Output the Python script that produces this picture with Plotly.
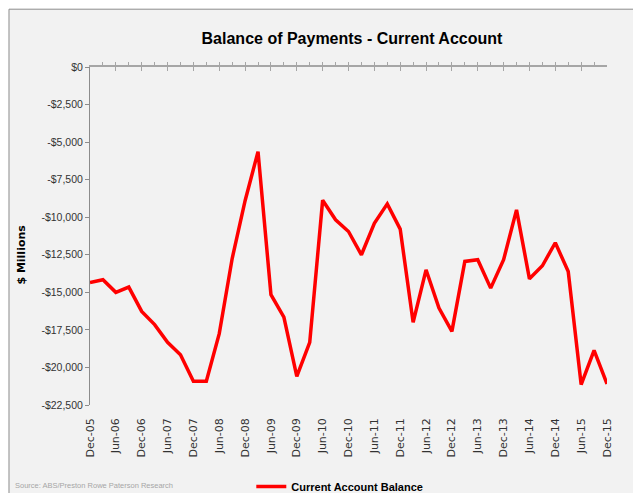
import plotly.graph_objects as go

# quarterly current account balance, $ millions
quarters = [
    "Dec-05", "Mar-06", "Jun-06", "Sep-06", "Dec-06", "Mar-07", "Jun-07", "Sep-07",
    "Dec-07", "Mar-08", "Jun-08", "Sep-08", "Dec-08", "Mar-09", "Jun-09", "Sep-09",
    "Dec-09", "Mar-10", "Jun-10", "Sep-10", "Dec-10", "Mar-11", "Jun-11", "Sep-11",
    "Dec-11", "Mar-12", "Jun-12", "Sep-12", "Dec-12", "Mar-13", "Jun-13", "Sep-13",
    "Dec-13", "Mar-14", "Jun-14", "Sep-14", "Dec-14", "Mar-15", "Jun-15", "Sep-15",
    "Dec-15",
]
balance = [
    -14340, -14160, -15000, -14650, -16270, -17150, -18330, -19150,
    -20920, -20920, -17750, -12750, -8900, -5630, -15160, -16650,
    -20590, -18330, -8870, -10170, -10950, -12500, -10400, -9110,
    -10790, -17000, -13500, -16050, -17600, -12940, -12830, -14720,
    -12830, -9510, -14100, -13230, -11700, -13610, -21140, -18860,
    -21100,
]
y_ticks = [0, -2500, -5000, -7500, -10000, -12500, -15000, -17500, -20000, -22500]
y_labels = ["$0" if v == 0 else "-${:,}".format(-v) for v in y_ticks]
shown_quarters = quarters[::2]

BG = "#f2f2f2"
AXIS = "#a6a6a6"
FONT = "Liberation Sans, sans-serif"

fig = go.Figure()
fig.add_trace(go.Scatter(
    x=quarters, y=balance, mode="lines", name="<b>Current Account Balance</b>",
    line=dict(color="#ff0000", width=3.5),
))
# empty trace so the top category axis (Excel's zero line with ticks) gets drawn
fig.add_trace(go.Scatter(
    x=[0, len(quarters) - 1], y=[None, None], xaxis="x2", mode="lines",
    showlegend=False, hoverinfo="skip",
))

# the page body has an 8px margin, so the figure is sized to fit inside it
fig.update_layout(
    width=633, height=485,
    margin=dict(l=82, r=34, t=59, b=88, autoexpand=False),
    paper_bgcolor="white",
    plot_bgcolor=BG,
    title=dict(
        text="<b>Balance of Payments - Current Account</b>",
        x=0.5434, y=0.938, xanchor="center", yanchor="middle",
        font=dict(family=FONT, size=16, color="black"),
    ),
    xaxis=dict(
        type="category", range=[0, len(quarters) - 1],
        tickvals=shown_quarters, ticktext=shown_quarters,
        tickangle=-90, showgrid=False, showline=False, zeroline=False,
        ticks="", ticklabelstandoff=10,
        tickfont=dict(family="DejaVu Sans", size=11, color="#333333"),
    ),
    xaxis2=dict(
        overlaying="x", side="top", anchor="y",
        range=[0, len(quarters) - 1],
        tickvals=list(range(0, len(quarters), 2)),
        showticklabels=False, showgrid=False, zeroline=False,
        showline=True, linecolor=AXIS, linewidth=2,
        ticks="inside", ticklen=4, tickcolor=AXIS, tickwidth=1,
        minor=dict(dtick=1, ticks="outside", ticklen=3, tickcolor=AXIS, showgrid=False),
    ),
    yaxis=dict(
        range=[-22500, 0], tickvals=y_ticks, ticktext=y_labels,
        showgrid=False, zeroline=False,
        showline=True, linecolor="#8c8c8c", linewidth=1,
        ticks="outside", ticklen=4, tickcolor="#8c8c8c",
        tickfont=dict(family=FONT, size=10.5, color="#333333"),
    ),
    legend=dict(
        orientation="h", x=0.312, y=-0.241, xanchor="left", yanchor="middle",
        bgcolor="rgba(0,0,0,0)",
        font=dict(family=FONT, size=11, color="black"),
    ),
)

# chart area background and border (Excel style)
fig.add_shape(
    type="rect", xref="paper", yref="paper",
    x0=-0.1567, x1=1.2, y0=-0.4, y1=1.171,
    fillcolor=BG, line=dict(color="#8c8c8c", width=1), layer="below",
)

fig.add_annotation(
    text="<b>$ Millions</b>", xref="paper", yref="paper",
    x=-0.1315, y=0.445, xanchor="center", yanchor="middle",
    textangle=-90, showarrow=False,
    font=dict(family="DejaVu Sans", size=11, color="black"),
)
fig.add_annotation(
    text="Source: ABS/Preston Rowe Paterson Research", xref="paper", yref="paper",
    x=-0.149, y=-0.238, xanchor="left", yanchor="middle", showarrow=False,
    font=dict(family=FONT, size=7.5, color="#a6a6a6"),
)

fig.write_html("out.html")
